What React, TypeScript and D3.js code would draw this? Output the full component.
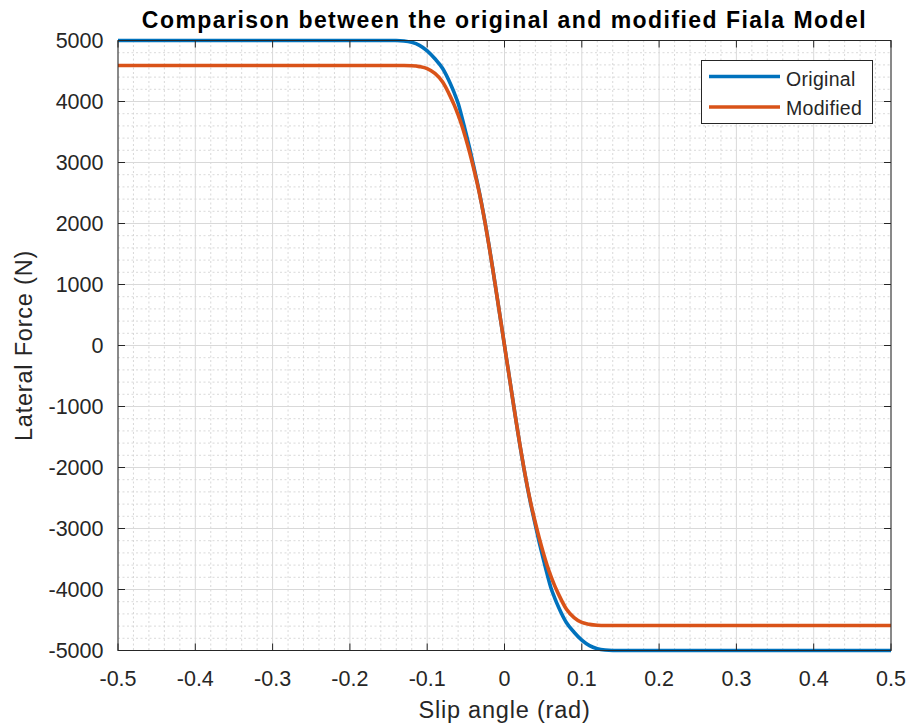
import React from "react";
import * as d3 from "d3";

// Slip angle samples (rad)
const slipAngle = [
  -0.5, -0.14, -0.13, -0.12, -0.11, -0.1, -0.09, -0.08, -0.07, -0.065, -0.06, -0.055, -0.05,
  -0.045, -0.04, -0.035, -0.03, -0.025, -0.02, -0.015, -0.01, -0.005, 0,
  0.005, 0.01, 0.015, 0.02, 0.025, 0.03, 0.035, 0.04, 0.045, 0.05, 0.055, 0.06, 0.065,
  0.07, 0.08, 0.09, 0.1, 0.11, 0.12, 0.13, 0.14, 0.5,
];

// Lateral force (N), original Fiala model
const originalForce = [
  5000, 5000, 4993, 4970, 4920, 4830, 4700, 4540, 4290, 4140, 3970, 3740, 3490,
  3230, 2950, 2660, 2350, 2010, 1640, 1240, 830, 415, 0,
  -415, -830, -1240, -1640, -2010, -2350, -2660, -2950, -3230, -3490, -3740, -3970, -4140,
  -4290, -4540, -4700, -4830, -4920, -4970, -4993, -5000, -5000,
];

// Lateral force (N), modified Fiala model
const modifiedForce = [
  4590, 4590, 4590, 4586, 4572, 4540, 4460, 4320, 4080, 3940, 3780, 3600, 3390,
  3160, 2910, 2640, 2340, 2000, 1630, 1240, 830, 415, 0,
  -415, -830, -1240, -1630, -2000, -2340, -2640, -2910, -3160, -3390, -3600, -3780, -3940,
  -4080, -4320, -4460, -4540, -4572, -4586, -4590, -4590, -4590,
];

const xTicks = [-0.5, -0.4, -0.3, -0.2, -0.1, 0, 0.1, 0.2, 0.3, 0.4, 0.5];
const xTickLabels = ["-0.5", "-0.4", "-0.3", "-0.2", "-0.1", "0", "0.1", "0.2", "0.3", "0.4", "0.5"];
const yTicks = [5000, 4000, 3000, 2000, 1000, 0, -1000, -2000, -3000, -4000, -5000];
const yTickLabels = ["5000", "4000", "3000", "2000", "1000", "0", "-1000", "-2000", "-3000", "-4000", "-5000"];

const seriesNames = ["Original", "Modified"];
const seriesColors = ["#0072BD", "#D95319"];

const W = 912;
const H = 727;
const left = 118;
const right = 891;
const top = 40.5;
const bottom = 650.5;
const font = "'Liberation Sans', Arial, Helvetica, sans-serif";
const axisColor = "#262626";

export default function App() {
  const x = d3.scaleLinear().domain([-0.5, 0.5]).range([left, right]);
  const y = d3.scaleLinear().domain([-5000, 5000]).range([bottom, top]);

  const minorX = d3.range(-0.5, 0.5001, 0.02).filter((v) => Math.abs(Math.round(v * 10) - v * 10) > 1e-6);
  const minorY = d3.range(-5000, 5001, 200).filter((v) => v % 1000 !== 0);

  const line = d3
    .line<number>()
    .x((_, i) => x(slipAngle[i]))
    .y((d) => y(d))
    .curve(d3.curveMonotoneX);

  const tickLen = 7;

  return (
    <svg
      width={W}
      height={H}
      style={{ position: "absolute", left: 0, top: 0, background: "#fff" }}
      fontFamily={font}
    >
      <rect x={0} y={0} width={W} height={H} fill="#fff" />
      {/* minor grid */}
      <g stroke="#cfcfcf" strokeWidth={0.8} strokeDasharray="2,2.5">
        {minorX.map((v) => (
          <line key={"mx" + v} x1={x(v)} x2={x(v)} y1={top} y2={bottom} />
        ))}
        {minorY.map((v) => (
          <line key={"my" + v} x1={left} x2={right} y1={y(v)} y2={y(v)} />
        ))}
      </g>
      {/* major grid */}
      <g stroke="#d9d9d9" strokeWidth={1}>
        {xTicks.map((v) => (
          <line key={"gx" + v} x1={x(v)} x2={x(v)} y1={top} y2={bottom} />
        ))}
        {yTicks.map((v) => (
          <line key={"gy" + v} x1={left} x2={right} y1={y(v)} y2={y(v)} />
        ))}
      </g>
      {/* curves */}
      <path d={line(originalForce) || ""} fill="none" stroke={seriesColors[0]} strokeWidth={3.6} />
      <path d={line(modifiedForce) || ""} fill="none" stroke={seriesColors[1]} strokeWidth={3.6} />
      {/* box and ticks */}
      <rect x={left} y={top} width={right - left} height={bottom - top} fill="none" stroke={axisColor} strokeWidth={1} />
      <g stroke={axisColor} strokeWidth={1}>
        {xTicks.map((v) => (
          <g key={"tx" + v}>
            <line x1={x(v)} x2={x(v)} y1={bottom} y2={bottom - tickLen} />
            <line x1={x(v)} x2={x(v)} y1={top} y2={top + tickLen} />
          </g>
        ))}
        {yTicks.map((v) => (
          <g key={"ty" + v}>
            <line x1={left} x2={left + tickLen} y1={y(v)} y2={y(v)} />
            <line x1={right} x2={right - tickLen} y1={y(v)} y2={y(v)} />
          </g>
        ))}
      </g>
      {/* tick labels */}
      <g fill={axisColor} fontSize={21.5}>
        {xTicks.map((v, i) => (
          <text key={"lx" + v} x={x(v)} y={686} textAnchor="middle">
            {xTickLabels[i]}
          </text>
        ))}
        {yTicks.map((v, i) => (
          <text key={"ly" + v} x={103.5} y={y(v) + 7.8} textAnchor="end">
            {yTickLabels[i]}
          </text>
        ))}
      </g>
      {/* axis labels */}
      <text x={(left + right) / 2} y={718} textAnchor="middle" fontSize={23.5} letterSpacing={0.8} fill={axisColor}>
        Slip angle (rad)
      </text>
      <text
        transform={`translate(32, ${(top + bottom) / 2}) rotate(-90)`}
        textAnchor="middle"
        fontSize={23.5}
        letterSpacing={0.8}
        fill={axisColor}
      >
        Lateral Force (N)
      </text>
      {/* title */}
      <text
        x={(left + right) / 2}
        y={28}
        textAnchor="middle"
        fontSize={23}
        fontWeight="bold"
        letterSpacing={1.45}
        fill="#000"
      >
        Comparison between the original and modified Fiala Model
      </text>
      {/* legend */}
      <g>
        <rect x={701.5} y={60.5} width={171} height={63} fill="#fff" stroke={axisColor} strokeWidth={1} />
        {seriesNames.map((name, i) => (
          <g key={name}>
            <line x1={709} x2={780} y1={76.5 + i * 30.5} y2={76.5 + i * 30.5} stroke={seriesColors[i]} strokeWidth={3.6} />
            <text x={786} y={86 + i * 29} fontSize={19.5} letterSpacing={0.3} fill={axisColor}>
              {name}
            </text>
          </g>
        ))}
      </g>
    </svg>
  );
}
